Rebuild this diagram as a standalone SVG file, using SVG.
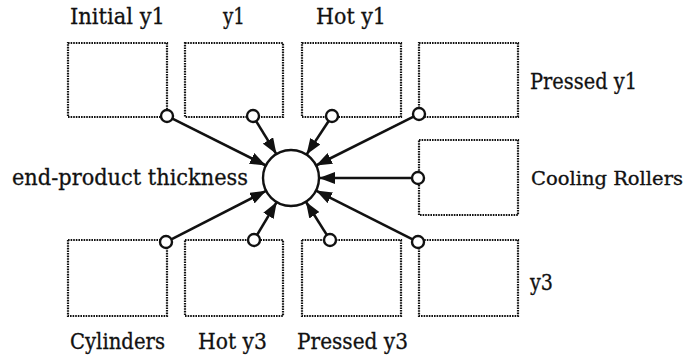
<svg xmlns="http://www.w3.org/2000/svg" width="699" height="358" viewBox="0 0 699 358">
<defs>
<style>
.box{fill:none;stroke:#111;stroke-width:2.2;stroke-dasharray:1.6 1}
.lbl{font-family:"DejaVu Serif","Liberation Serif",serif;font-size:22px;fill:#111;stroke:#111;stroke-width:0.3}
.conn{stroke:#111;stroke-width:2.6;fill:none;marker-end:url(#ah)}
.port{fill:#fff;stroke:#111;stroke-width:2.4}
</style>
<marker id="ah" markerUnits="userSpaceOnUse" markerWidth="18" markerHeight="12" refX="16" refY="6" orient="auto">
<path d="M0,0 L16,6 L0,12 Z" fill="#111"/>
</marker>
</defs>
<rect width="699" height="358" fill="#fff"/>

<g id="initial-y1">
<rect class="box" x="68" y="43" width="99" height="74"/>
<text class="lbl" x="70" y="24" textLength="95" lengthAdjust="spacingAndGlyphs">Initial y1</text>
</g>
<g id="y1">
<rect class="box" x="185" y="43" width="98" height="74"/>
<text class="lbl" x="223" y="24" textLength="22" lengthAdjust="spacingAndGlyphs">y1</text>
</g>
<g id="hot-y1">
<rect class="box" x="302" y="43" width="99" height="74"/>
<text class="lbl" x="316" y="24" textLength="70" lengthAdjust="spacingAndGlyphs">Hot y1</text>
</g>
<g id="pressed-y1">
<rect class="box" x="419" y="43" width="99" height="74"/>
<text class="lbl" x="530" y="89" textLength="107" lengthAdjust="spacingAndGlyphs">Pressed y1</text>
</g>
<g id="cooling-rollers">
<rect class="box" x="419" y="140" width="99" height="75"/>
<text class="lbl" x="531" y="185" font-size="18" textLength="152" lengthAdjust="spacingAndGlyphs" style="font-size:18px">Cooling Rollers</text>
</g>
<g id="y3">
<rect class="box" x="419" y="240" width="99" height="76"/>
<text class="lbl" x="530" y="290" textLength="23" lengthAdjust="spacingAndGlyphs">y3</text>
</g>
<g id="cylinders">
<rect class="box" x="68" y="240" width="99" height="76"/>
<text class="lbl" x="70" y="349" textLength="95" lengthAdjust="spacingAndGlyphs">Cylinders</text>
</g>
<g id="hot-y3">
<rect class="box" x="185" y="240" width="98" height="76"/>
<text class="lbl" x="198" y="349" textLength="69" lengthAdjust="spacingAndGlyphs">Hot y3</text>
</g>
<g id="pressed-y3">
<rect class="box" x="302" y="240" width="99" height="76"/>
<text class="lbl" x="297" y="349" textLength="111" lengthAdjust="spacingAndGlyphs">Pressed y3</text>
</g>
<g id="end-product-thickness">
<circle cx="291" cy="178" r="28" fill="#fff" stroke="#111" stroke-width="2.4"/>
<text class="lbl" x="12" y="185" textLength="236" lengthAdjust="spacingAndGlyphs">end-product thickness</text>
</g>

<g id="connectors">
<line class="conn" x1="172.4" y1="118.7" x2="265.9" y2="165.5"/>
<line class="conn" x1="256.1" y1="121.1" x2="276.4" y2="154.1"/>
<line class="conn" x1="328.7" y1="121.0" x2="306.5" y2="154.6"/>
<line class="conn" x1="413.6" y1="116.7" x2="316.0" y2="165.5"/>
<line class="conn" x1="412" y1="178" x2="319" y2="178"/>
<line class="conn" x1="412.6" y1="239.3" x2="316.0" y2="190.6"/>
<line class="conn" x1="326.8" y1="234.9" x2="305.9" y2="201.7"/>
<line class="conn" x1="257.1" y1="234.8" x2="276.7" y2="202.1"/>
<line class="conn" x1="171.3" y1="239.3" x2="266.1" y2="190.8"/>
<circle class="port" cx="167" cy="116" r="6"/>
<circle class="port" cx="253" cy="116" r="6"/>
<circle class="port" cx="332" cy="116" r="6"/>
<circle class="port" cx="419" cy="114" r="6"/>
<circle class="port" cx="418" cy="178" r="6"/>
<circle class="port" cx="418" cy="242" r="6"/>
<circle class="port" cx="330" cy="240" r="6"/>
<circle class="port" cx="254" cy="240" r="6"/>
<circle class="port" cx="166" cy="242" r="6"/>
</g>
</svg>
